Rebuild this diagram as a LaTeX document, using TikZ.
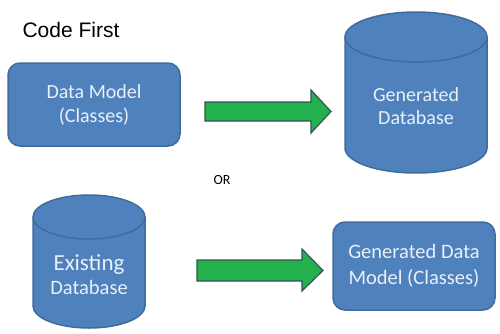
\documentclass[tikz,border=0pt]{standalone}
\usepackage{fontspec}
\setmainfont{Carlito}
\newfontfamily\arialfont{Liberation Sans}
\definecolor{boxfill}{HTML}{4F81BD}
\definecolor{boxline}{HTML}{3F6C9C}
\definecolor{arrfill}{HTML}{22B14C}
\definecolor{arrline}{HTML}{32574F}
\definecolor{boxtext}{HTML}{EAF0F8}
\tikzset{
  blockbox/.style={draw=boxline, line width=1.5pt, fill=boxfill, rounded corners=12pt,
    text=boxtext, align=center, font=\fontsize{20}{24}\selectfont, inner sep=0pt},
  cyl/.style={draw=boxline, line width=1.5pt, fill=boxfill},
  cyltext/.style={text=boxtext, align=center, font=\fontsize{20.5}{24}\selectfont},
  blockarrow/.style={draw=arrline, line width=1.2pt, fill=arrfill, line join=miter},
}
\begin{document}
\begin{tikzpicture}[x=1pt,y=1pt]
\useasboundingbox (0,0) rectangle (500,333);
% title
\node[font=\arialfont\fontsize{21}{24}\selectfont] (title) at (71,303) {Code First};
% top row
\node[blockbox, minimum width=172pt, minimum height=83pt] (dm) at (94,228.5) {Data Model\\(Classes)};
\draw[cyl] (345,296) -- (345,185) arc[start angle=180, end angle=360, x radius=71, y radius=25]
  -- (487,296) arc[start angle=0, end angle=180, x radius=71, y radius=25] -- cycle;
\draw[cyl] (345,296) arc[start angle=180, end angle=360, x radius=71, y radius=25];
\node[cyltext, font=\fontsize{20}{23}\selectfont] (gdb) at (416,227) {Generated\\Database};
\draw[blockarrow] (205,231) -- (311,231) -- (311,243) -- (331,221.5) -- (311,200) -- (311,212) -- (205,212) -- cycle;
% or
\node[font=\fontsize{14}{16}\selectfont] (or) at (222,153) {OR};
% bottom row
\draw[cyl] (33,116) -- (33,27) arc[start angle=180, end angle=360, x radius=56, y radius=22]
  -- (145,116) arc[start angle=0, end angle=180, x radius=56, y radius=22] -- cycle;
\draw[cyl] (33,116) arc[start angle=180, end angle=360, x radius=56, y radius=22];
\node[cyltext] (edb) at (89,58) {{\fontsize{23}{26}\selectfont Existing}\\Database};
\draw[blockarrow] (197,73) -- (302,73) -- (302,84) -- (323,62.5) -- (302,42) -- (302,52) -- (197,52) -- cycle;
\node[blockbox, minimum width=162pt, minimum height=88pt, font=\fontsize{20.5}{26}\selectfont] (gdm) at (414,67) {Generated Data\\Model (Classes)};
\end{tikzpicture}
\end{document}
